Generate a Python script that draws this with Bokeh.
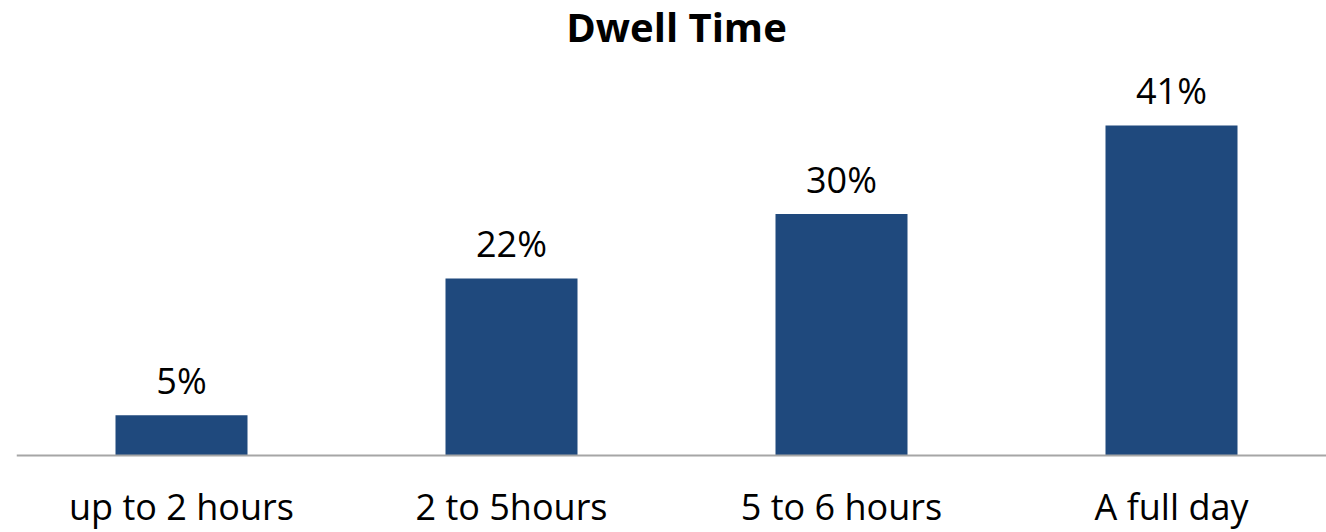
from bokeh.plotting import figure
from bokeh.models import Range1d, ColumnDataSource, LabelSet, Label, Span
from bokeh.core.properties import value
from bokeh.embed import file_html
from bokeh.resources import INLINE

# Share of visitors by length of stay
title_text = "Dwell Time"
categories = ["up to 2 hours", "2 to 5hours", "5 to 6 hours", "A full day"]
shares = [5, 22, 30, 41]
share_labels = ["5%", "22%", "30%", "41%"]

positions = [i + 0.5 for i in range(len(categories))]
source = ColumnDataSource(dict(x=positions, top=shares, label=share_labels,
                               category=categories, base=[0] * len(categories)))

# vertical scale: about 8.05 px per percentage point, zero line 77 px above the bottom
px_per_pct = 8.05
y_min = -77 / px_per_pct
y_max = 455 / px_per_pct
x_max = 1310 / 330

p = figure(
    width=1326, height=532,
    output_backend="svg", toolbar_location=None,
    x_range=Range1d(0, x_max), y_range=Range1d(y_min, y_max),
    min_border_left=16, min_border_right=0,
    min_border_top=0, min_border_bottom=0,
)
p.outline_line_color = None
p.background_fill_color = "white"
p.border_fill_color = "white"
p.xaxis.visible = False
p.yaxis.visible = False
p.xgrid.visible = False
p.ygrid.visible = False

p.vbar(x="x", top="top", bottom=0, width=0.4, source=source,
       fill_color="#1F497D", line_color=None)

# zero line
p.add_layout(Span(location=0, dimension="width",
                  line_color="#A6A6A6", line_width=2))

# value labels above each bar
p.add_layout(LabelSet(x="x", y="top", text="label", source=source,
                      text_align="center", text_baseline="alphabetic",
                      y_offset=21, text_font=value("Open Sans"),
                      text_font_size=value("36px"), text_color="#000000"))

# category names under the zero line
p.add_layout(LabelSet(x="x", y="base", text="category", source=source,
                      text_align="center", text_baseline="alphabetic",
                      y_offset=-64, text_font=value("Open Sans"),
                      text_font_size=value("36px"), text_color="#000000"))

# chart heading
p.add_layout(Label(x=x_max / 2, y=y_max, text=title_text,
                   x_offset=5, y_offset=-26,
                   text_align="center", text_baseline="alphabetic",
                   text_font="Open Sans", text_font_style="bold",
                   text_font_size="40px", text_color="#000000"))

open("out.html", "w").write(file_html(p, INLINE))
